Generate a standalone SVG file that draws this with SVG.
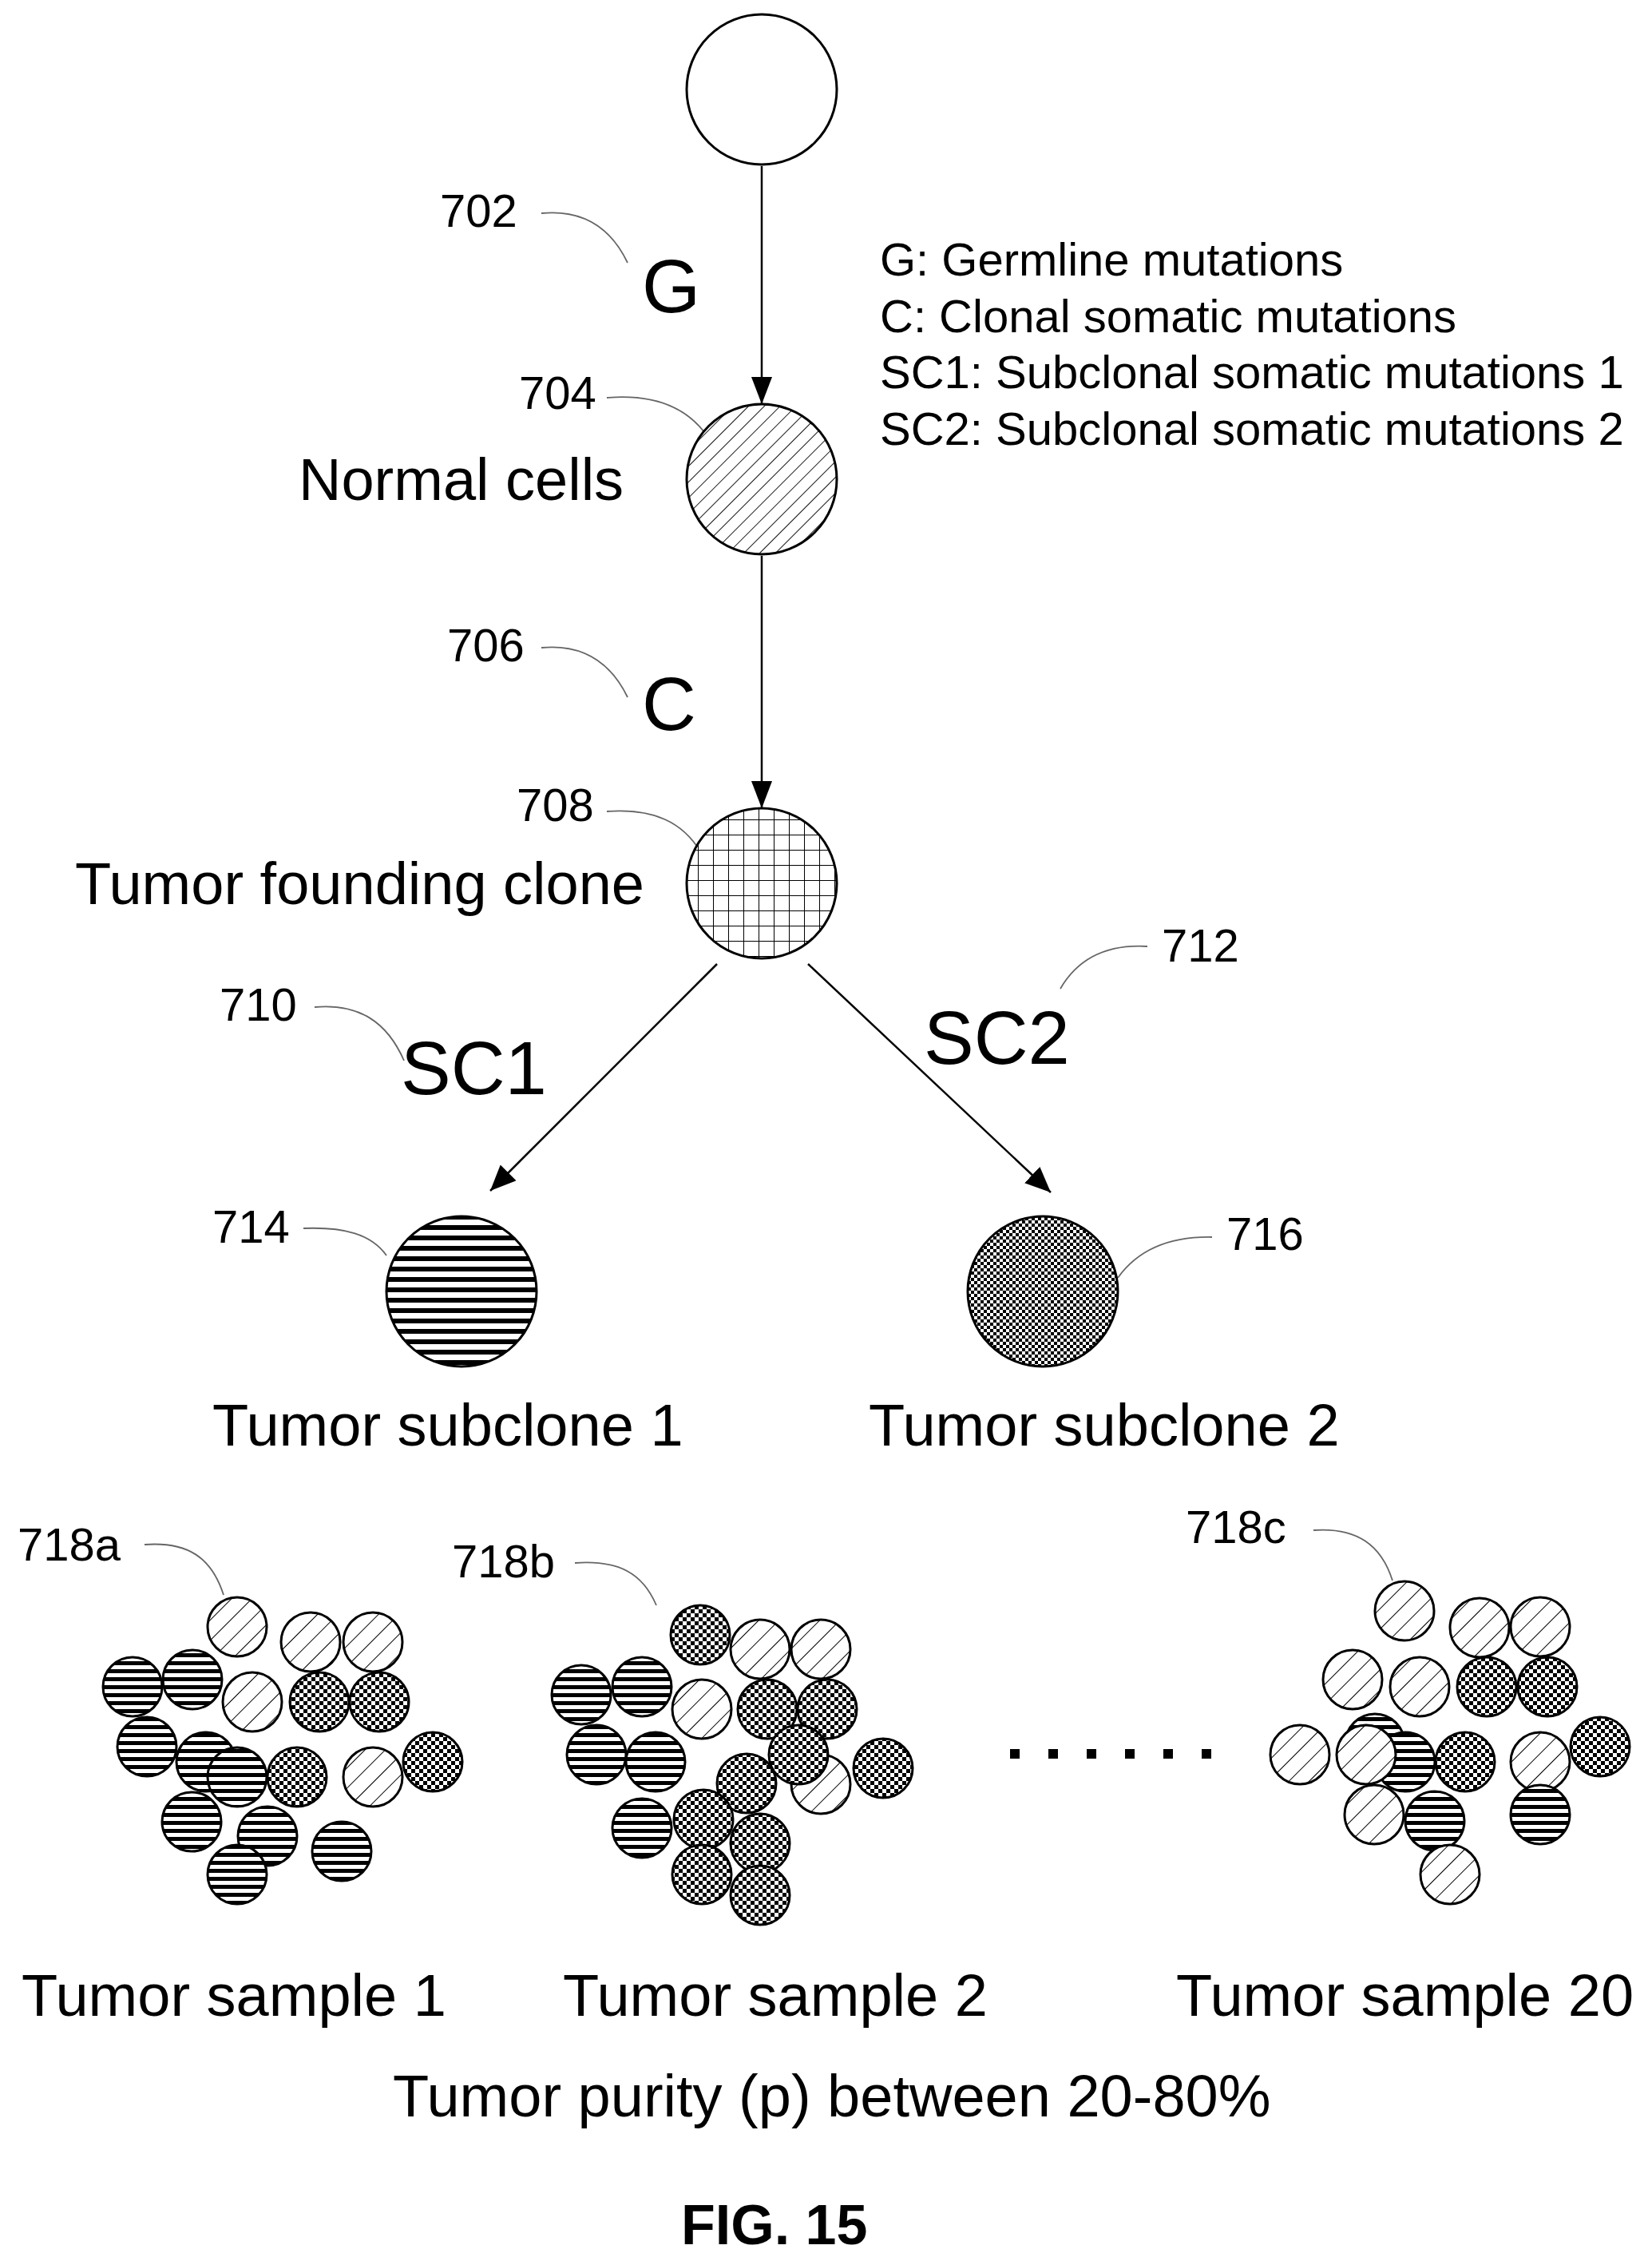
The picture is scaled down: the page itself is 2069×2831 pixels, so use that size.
<svg xmlns="http://www.w3.org/2000/svg" width="2069" height="2831" viewBox="0 0 2069 2831">
<style>
text{font-family:"Liberation Sans",Arial,sans-serif;fill:#000}
.ref{font-size:58px}
.big{font-size:94px}
.lab{font-size:74px}
.leg{font-size:58px}
.lead{fill:none;stroke:#666;stroke-width:1.8}
.con{stroke:#000;stroke-width:2.5;fill:none}
.c{stroke:#000;stroke-width:3}
</style>
<defs>
<marker id="ah" viewBox="0 0 32 28" refX="32" refY="14" markerWidth="32" markerHeight="28" markerUnits="userSpaceOnUse" orient="auto"><path d="M0,0 L32,14 L0,28 z" fill="#000"/></marker>
<marker id="ahv" viewBox="0 0 26 34" refX="13" refY="34" markerWidth="26" markerHeight="34" markerUnits="userSpaceOnUse" orient="0"><path d="M0,0 L26,0 L13,34 z" fill="#000"/></marker>
<pattern id="diag" width="14" height="14" patternUnits="userSpaceOnUse" patternTransform="rotate(45)"><rect width="14" height="14" fill="#fff"/><line x1="0" y1="0" x2="0" y2="14" stroke="#000" stroke-width="1.8"/></pattern>
<pattern id="diagS" width="18" height="18" patternUnits="userSpaceOnUse" patternTransform="rotate(45)"><rect width="18" height="18" fill="#fff"/><line x1="0" y1="0" x2="0" y2="18" stroke="#000" stroke-width="2"/></pattern>
<pattern id="grid" width="19" height="19" patternUnits="userSpaceOnUse"><rect width="19" height="19" fill="#fff"/><path d="M0,0H19M0,0V19" stroke="#000" stroke-width="2"/></pattern>
<pattern id="hor" width="13" height="13" patternUnits="userSpaceOnUse"><rect width="13" height="13" fill="#fff"/><rect y="0" width="13" height="6" fill="#000"/></pattern>
<pattern id="horS" width="10" height="10" patternUnits="userSpaceOnUse"><rect width="10" height="10" fill="#fff"/><rect y="0" width="10" height="5" fill="#000"/></pattern>
<pattern id="chk" width="8" height="8" patternUnits="userSpaceOnUse"><rect width="8" height="8" fill="#fff"/><rect width="4" height="4" fill="#000"/><rect x="4" y="4" width="4" height="4" fill="#000"/></pattern>
<pattern id="chkS" width="10" height="10" patternUnits="userSpaceOnUse"><rect width="10" height="10" fill="#fff"/><rect width="5" height="5" fill="#000"/><rect x="5" y="5" width="5" height="5" fill="#000"/></pattern>
</defs>

<g id="connectors">
<line class="con" x1="954" y1="208" x2="954" y2="506" marker-end="url(#ahv)"/>
<line class="con" x1="954" y1="696" x2="954" y2="1012" marker-end="url(#ahv)"/>
<line class="con" x1="898" y1="1207" x2="614" y2="1491" marker-end="url(#ah)"/>
<line class="con" x1="1012" y1="1207" x2="1316" y2="1493" marker-end="url(#ah)"/>
<path class="lead" d="M678,267 C730,262 765,285 786,329"/>
<path class="lead" d="M760,498 C820,493 860,510 885,545"/>
<path class="lead" d="M678,811 C730,806 765,830 786,873"/>
<path class="lead" d="M760,1016 C820,1012 855,1030 877,1066"/>
<path class="lead" d="M394,1261 C450,1256 485,1280 506,1328"/>
<path class="lead" d="M1437,1185 C1385,1182 1350,1200 1328,1238"/>
<path class="lead" d="M380,1538 C430,1536 465,1545 484,1572"/>
<path class="lead" d="M1518,1549 C1465,1548 1425,1565 1400,1600"/>
<path class="lead" d="M181,1934 C235,1930 265,1950 280,1997"/>
<path class="lead" d="M720,1957 C775,1953 805,1970 822,2010"/>
<path class="lead" d="M1645,1916 C1700,1912 1730,1935 1744,1979"/>
</g>

<g id="n700"><circle class="c" cx="954" cy="112" r="94" fill="#fff"/></g>
<g id="n704"><circle class="c" cx="954" cy="600" r="94" fill="url(#diag)"/></g>
<g id="n708"><circle class="c" cx="954" cy="1106" r="94" fill="url(#grid)"/></g>
<g id="n714"><circle class="c" cx="578" cy="1617" r="94" fill="url(#hor)"/></g>
<g id="n716"><circle class="c" cx="1306" cy="1617" r="94" fill="url(#chk)"/></g>

<g id="labels">
<text class="ref" x="551" y="284">702</text>
<text class="big" x="804" y="391">G</text>
<text class="leg" x="1102" y="345">G: Germline mutations</text>
<text class="leg" x="1102" y="416">C: Clonal somatic mutations</text>
<text class="leg" x="1102" y="486">SC1: Subclonal somatic mutations 1</text>
<text class="leg" x="1102" y="557">SC2: Subclonal somatic mutations 2</text>
<text class="ref" x="650" y="512">704</text>
<text class="lab" x="374" y="626">Normal cells</text>
<text class="ref" x="560" y="828">706</text>
<text class="big" x="804" y="914">C</text>
<text class="ref" x="647" y="1028">708</text>
<text class="lab" x="94" y="1132">Tumor founding clone</text>
<text class="ref" x="275" y="1278">710</text>
<text class="big" x="502" y="1370">SC1</text>
<text class="ref" x="1455" y="1204">712</text>
<text class="big" x="1157" y="1332">SC2</text>
<text class="ref" x="266" y="1556">714</text>
<text class="ref" x="1536" y="1565">716</text>
<text class="lab" x="266" y="1810">Tumor subclone 1</text>
<text class="lab" x="1088" y="1810">Tumor subclone 2</text>
<text class="ref" x="22" y="1954">718a</text>
<text class="ref" x="566" y="1975">718b</text>
<text class="ref" x="1485" y="1932">718c</text>
<text class="lab" x="27" y="2524">Tumor sample 1</text>
<text class="lab" x="705" y="2524">Tumor sample 2</text>
<text class="lab" x="1473" y="2524">Tumor sample 20</text>
<text class="lab" x="492" y="2650">Tumor purity (p) between 20-80%</text>
<text x="853" y="2810" style="font-size:70px;font-weight:bold">FIG. 15</text>
</g>

<g id="dots" fill="#000">
<rect x="1265" y="2190" width="12" height="12"/><rect x="1313" y="2190" width="12" height="12"/><rect x="1361" y="2190" width="12" height="12"/><rect x="1409" y="2190" width="12" height="12"/><rect x="1457" y="2190" width="12" height="12"/><rect x="1505" y="2190" width="12" height="12"/>
</g>

<g id="n718a" class="c">
<circle cx="297" cy="2037" r="37" fill="url(#diagS)"/>
<circle cx="389" cy="2056" r="37" fill="url(#diagS)"/>
<circle cx="467" cy="2056" r="37" fill="url(#diagS)"/>
<circle cx="166" cy="2112" r="37" fill="url(#horS)"/>
<circle cx="241" cy="2103" r="37" fill="url(#horS)"/>
<circle cx="316" cy="2131" r="37" fill="url(#diagS)"/>
<circle cx="400" cy="2131" r="37" fill="url(#chkS)"/>
<circle cx="475" cy="2131" r="37" fill="url(#chkS)"/>
<circle cx="184" cy="2187" r="37" fill="url(#horS)"/>
<circle cx="258" cy="2206" r="37" fill="url(#horS)"/>
<circle cx="297" cy="2225" r="37" fill="url(#horS)"/>
<circle cx="372" cy="2225" r="37" fill="url(#chkS)"/>
<circle cx="467" cy="2225" r="37" fill="url(#diagS)"/>
<circle cx="542" cy="2206" r="37" fill="url(#chkS)"/>
<circle cx="240" cy="2281" r="37" fill="url(#horS)"/>
<circle cx="335" cy="2299" r="37" fill="url(#horS)"/>
<circle cx="428" cy="2318" r="37" fill="url(#horS)"/>
<circle cx="297" cy="2347" r="37" fill="url(#horS)"/>
</g>

<g id="n718b" class="c">
<circle cx="877" cy="2047" r="37" fill="url(#chkS)"/>
<circle cx="952" cy="2065" r="37" fill="url(#diagS)"/>
<circle cx="1028" cy="2065" r="37" fill="url(#diagS)"/>
<circle cx="728" cy="2122" r="37" fill="url(#horS)"/>
<circle cx="804" cy="2112" r="37" fill="url(#horS)"/>
<circle cx="879" cy="2140" r="37" fill="url(#diagS)"/>
<circle cx="961" cy="2140" r="37" fill="url(#chkS)"/>
<circle cx="1036" cy="2140" r="37" fill="url(#chkS)"/>
<circle cx="747" cy="2197" r="37" fill="url(#horS)"/>
<circle cx="821" cy="2206" r="37" fill="url(#horS)"/>
<circle cx="1028" cy="2234" r="37" fill="url(#diagS)"/>
<circle cx="1106" cy="2214" r="37" fill="url(#chkS)"/>
<circle cx="1000" cy="2197" r="37" fill="url(#chkS)"/>
<circle cx="935" cy="2233" r="37" fill="url(#chkS)"/>
<circle cx="804" cy="2289" r="37" fill="url(#horS)"/>
<circle cx="881" cy="2278" r="37" fill="url(#chkS)"/>
<circle cx="952" cy="2308" r="37" fill="url(#chkS)"/>
<circle cx="879" cy="2347" r="37" fill="url(#chkS)"/>
<circle cx="952" cy="2373" r="37" fill="url(#chkS)"/>
</g>

<g id="n718c" class="c">
<circle cx="1759" cy="2017" r="37" fill="url(#diagS)"/>
<circle cx="1853" cy="2038" r="37" fill="url(#diagS)"/>
<circle cx="1929" cy="2037" r="37" fill="url(#diagS)"/>
<circle cx="1694" cy="2103" r="37" fill="url(#diagS)"/>
<circle cx="1778" cy="2112" r="37" fill="url(#diagS)"/>
<circle cx="1862" cy="2112" r="37" fill="url(#chkS)"/>
<circle cx="1938" cy="2112" r="37" fill="url(#chkS)"/>
<circle cx="1722" cy="2183" r="37" fill="url(#horS)"/>
<circle cx="1628" cy="2197" r="37" fill="url(#diagS)"/>
<circle cx="1760" cy="2206" r="37" fill="url(#horS)"/>
<circle cx="1711" cy="2197" r="37" fill="url(#diagS)"/>
<circle cx="1835" cy="2206" r="37" fill="url(#chkS)"/>
<circle cx="1929" cy="2206" r="37" fill="url(#diagS)"/>
<circle cx="2004" cy="2187" r="37" fill="url(#chkS)"/>
<circle cx="1721" cy="2272" r="37" fill="url(#diagS)"/>
<circle cx="1797" cy="2280" r="37" fill="url(#horS)"/>
<circle cx="1929" cy="2272" r="37" fill="url(#horS)"/>
<circle cx="1816" cy="2347" r="37" fill="url(#diagS)"/>
</g>
</svg>
